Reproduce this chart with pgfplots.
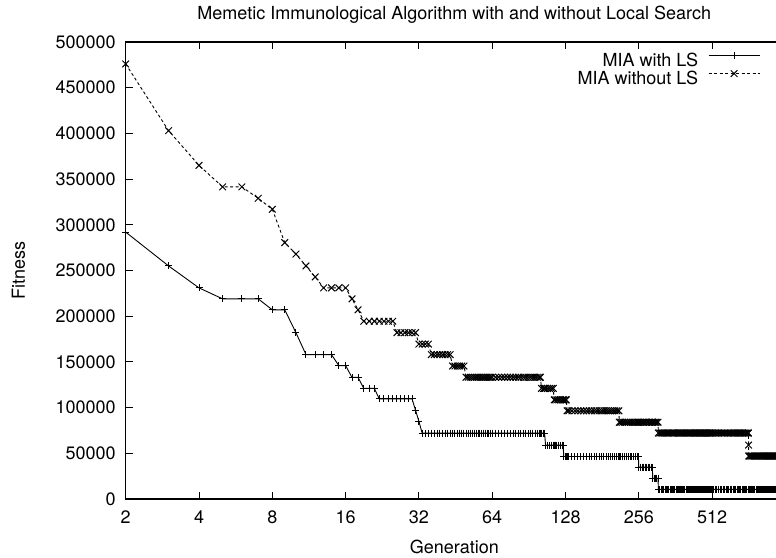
\documentclass[border=0pt]{standalone}
\usepackage{fontspec}
\setmainfont{TeX Gyre Heros}
\usepackage{pgfplots}
\usepackage{pgfplotstable}
\pgfplotsset{compat=1.18}

% generation, fitness with LS, fitness without LS
\pgfplotstableread[row sep=\\]{
g ls nols\\
2 292000 476000\\ 3 255000 403000\\ 4 231000 365000\\ 5 219000 341500\\
6 219000 341500\\ 7 219000 329000\\ 8 207000 317000\\ 9 207000 280500\\
10 182000 268000\\ 11 158000 255000\\ 12 158000 243000\\ 13 158000 231000\\
14 158000 231000\\ 15 146000 231000\\ 16 146000 231000\\ 17 133000 219000\\
18 133000 207000\\ 19 121000 194500\\ 20 121000 194500\\ 21 121000 194500\\
22 109500 194500\\ 23 109500 194500\\ 24 109500 194500\\ 25 109500 194500\\
26 109500 182000\\ 27 109500 182000\\ 28 109500 182000\\ 29 109500 182000\\
30 109500 182000\\ 31 97000 182000\\ 32 85000 169500\\ 33 72000 169500\\
34 72000 169500\\ 35 72000 169500\\ 36 72000 158000\\ 37 72000 158000\\
38 72000 158000\\ 39 72000 158000\\ 40 72000 158000\\ 41 72000 158000\\
42 72000 158000\\ 43 72000 158000\\ 44 72000 145500\\ 45 72000 145500\\
46 72000 145500\\ 47 72000 145500\\ 48 72000 145500\\ 49 72000 145500\\
50 72000 133200\\ 51 72000 133200\\ 52 72000 133200\\ 53 72000 133200\\
54 72000 133200\\ 55 72000 133200\\ 56 72000 133200\\ 57 72000 133200\\
58 72000 133200\\ 59 72000 133200\\ 60 72000 133200\\ 61 72000 133200\\
62 72000 133200\\ 63 72000 133200\\ 64 72000 133200\\ 66 72000 133200\\
68 72000 133200\\ 70 72000 133200\\ 72 72000 133200\\ 74 72000 133200\\
76 72000 133200\\ 78 72000 133200\\ 80 72000 133200\\ 82 72000 133200\\
84 72000 133200\\ 86 72000 133200\\ 88 72000 133200\\ 90 72000 133200\\
92 72000 133200\\ 94 72000 133200\\ 96 72000 133200\\ 98 72000 133200\\
100 72000 133200\\ 101 72000 133200\\ 102 72000 121000\\ 104 72000 121000\\
105 72000 121000\\ 106 59000 121000\\ 108 59000 121000\\ 110 59000 121000\\
112 59000 121000\\ 114 59000 121000\\ 115 59000 108500\\ 116 59000 108500\\
118 59000 108500\\ 120 59000 108500\\ 122 59000 108500\\ 124 59000 108500\\
125 59000 108500\\ 126 46500 108500\\ 128 46500 108500\\ 129 46500 108500\\
130 46500 96500\\ 132 46500 96500\\ 136 46500 96500\\ 140 46500 96500\\
144 46500 96500\\ 148 46500 96500\\ 152 46500 96500\\ 156 46500 96500\\
160 46500 96500\\ 164 46500 96500\\ 168 46500 96500\\ 172 46500 96500\\
176 46500 96500\\ 180 46500 96500\\ 184 46500 96500\\ 188 46500 96500\\
192 46500 96500\\ 196 46500 96500\\ 200 46500 96500\\ 204 46500 96500\\
208 46500 96500\\ 212 46500 96500\\ 213 46500 84000\\ 216 46500 84000\\
220 46500 84000\\ 224 46500 84000\\ 228 46500 84000\\ 232 46500 84000\\
236 46500 84000\\ 240 46500 84000\\ 244 46500 84000\\ 248 46500 84000\\
252 46500 84000\\ 255 46500 84000\\ 256 35000 84000\\ 260 35000 84000\\
264 35000 84000\\ 268 35000 84000\\ 272 35000 84000\\ 276 35000 84000\\
280 35000 84000\\ 284 35000 84000\\ 288 35000 84000\\ 291 35000 84000\\
292 22500 84000\\ 296 22500 84000\\ 300 22500 84000\\ 304 22500 84000\\
307 22500 84000\\ 308 10500 72200\\ 312 10500 72200\\ 316 10500 72200\\
320 10500 72200\\ 324 10500 72200\\ 328 10500 72200\\ 332 10500 72200\\
336 10500 72200\\ 340 10500 72200\\ 344 10500 72200\\ 348 10500 72200\\
352 10500 72200\\ 356 10500 72200\\ 360 10500 72200\\ 364 10500 72200\\
368 10500 72200\\ 372 10500 72200\\ 376 10500 72200\\ 380 10500 72200\\
384 10500 72200\\ 388 10500 72200\\ 392 10500 72200\\ 396 10500 72200\\
400 10500 72200\\ 404 10500 72200\\ 408 10500 72200\\ 412 10500 72200\\
416 10500 72200\\ 420 10500 72200\\ 424 10500 72200\\ 428 10500 72200\\
432 10500 72200\\ 436 10500 72200\\ 440 10500 72200\\ 444 10500 72200\\
448 10500 72200\\ 452 10500 72200\\ 456 10500 72200\\ 460 10500 72200\\
464 10500 72200\\ 468 10500 72200\\ 472 10500 72200\\ 476 10500 72200\\
480 10500 72200\\ 484 10500 72200\\ 488 10500 72200\\ 492 10500 72200\\
496 10500 72200\\ 500 10500 72200\\ 504 10500 72200\\ 508 10500 72200\\
512 10500 72200\\
520 10500 72200\\ 528 10500 72200\\ 536 10500 72200\\ 544 10500 72200\\
552 10500 72200\\ 560 10500 72200\\ 568 10500 72200\\ 576 10500 72200\\
584 10500 72200\\ 592 10500 72200\\ 600 10500 72200\\ 608 10500 72200\\
616 10500 72200\\ 624 10500 72200\\ 632 10500 72200\\ 640 10500 72200\\
648 10500 72200\\ 656 10500 72200\\ 664 10500 72200\\ 672 10500 72200\\
680 10500 72200\\ 688 10500 72200\\ 696 10500 72200\\ 704 10500 72200\\
712 10500 72200\\ 720 10500 72200\\ 722 10500 72200\\ 723 10500 59000\\
724 10500 47000\\ 728 10500 47000\\ 736 10500 47000\\ 744 10500 47000\\
752 10500 47000\\ 760 10500 47000\\ 768 10500 47000\\ 776 10500 47000\\
784 10500 47000\\ 792 10500 47000\\ 800 10500 47000\\ 808 10500 47000\\
816 10500 47000\\ 824 10500 47000\\ 832 10500 47000\\ 840 10500 47000\\
848 10500 47000\\ 856 10500 47000\\ 864 10500 47000\\ 872 10500 47000\\
880 10500 47000\\ 888 10500 47000\\ 896 10500 47000\\ 904 10500 47000\\
912 10500 47000\\ 920 10500 47000\\ 928 10500 47000\\ 936 10500 47000\\
944 10500 47000\\ 952 10500 47000\\ 960 10500 47000\\ 968 10500 47000\\
976 10500 47000\\ 984 10500 47000\\ 992 10500 47000\\ 1000 10500 47000\\
}\fitness

\newcommand{\gfont}{\fontsize{18}{20}\selectfont}

\begin{document}
\begin{tikzpicture}
\begin{axis}[
    scale only axis,
    width=657.2pt, height=457pt,
    xmode=log, log basis x=2,
    xmin=2, xmax=1000,
    ymin=0, ymax=500000,
    scaled y ticks=false,
    xtick={2,4,8,16,32,64,128,256,512},
    xticklabels={2,4,8,16,32,64,128,256,512},
    xminorticks=false,
    ytick={0,50000,100000,150000,200000,250000,300000,350000,400000,450000,500000},
    yticklabels={0,50000,100000,150000,200000,250000,300000,350000,400000,450000,500000},
    tick pos=both, tick align=inside,
    major tick length=7pt,
    tick style={black, line width=1pt},
    axis line style={line width=1.5pt},
    tick label style={font=\gfont},
    xticklabel style={yshift=-8pt},
    yticklabel style={xshift=-6.6pt},
    title={Memetic Immunological Algorithm with and without Local Search},
    every axis title/.style={font=\gfont, at={(axis description cs:0.5,1)}, anchor=base, yshift=23pt},
    xlabel={Generation},
    ylabel={Fitness},
    every axis x label/.style={at={(axis description cs:0.5,0)}, anchor=base, yshift=-54pt, font=\gfont},
    every axis y label/.style={at={(axis description cs:0,0.5)}, rotate=90, anchor=base, yshift=100.7pt, font=\gfont},
    clip=false,
    legend plot pos=right,
    legend cell align=right,
    legend image code/.code={\draw[mark repeat=2,mark phase=2,#1] plot coordinates {(0pt,4.5pt) (25.5pt,4.5pt) (51pt,4.5pt)};},
    legend style={at={(0.9652,0.9775)}, anchor=north east, draw=none, fill=none,
        inner sep=0pt, outer sep=0pt, row sep=4pt, column sep=10pt,
        font=\gfont, nodes={inner sep=0pt, text height=12pt, text depth=0pt}},
]
\addplot[black, line width=0.9pt, mark=+, mark size=3.5pt, mark options={line width=1pt}] table[x=g, y=ls] {\fitness};
\addlegendentry{MIA with LS}
\addplot[black, line width=0.9pt, dash pattern=on 3pt off 2.5pt, mark=x, mark size=4.7pt, mark options={solid, line width=1pt}] table[x=g, y=nols] {\fitness};
\addlegendentry{MIA without LS}
\end{axis}
\pgfresetboundingbox
\useasboundingbox (-125.7pt,-58pt) rectangle (650.3pt,499pt);
\end{tikzpicture}
\end{document}
